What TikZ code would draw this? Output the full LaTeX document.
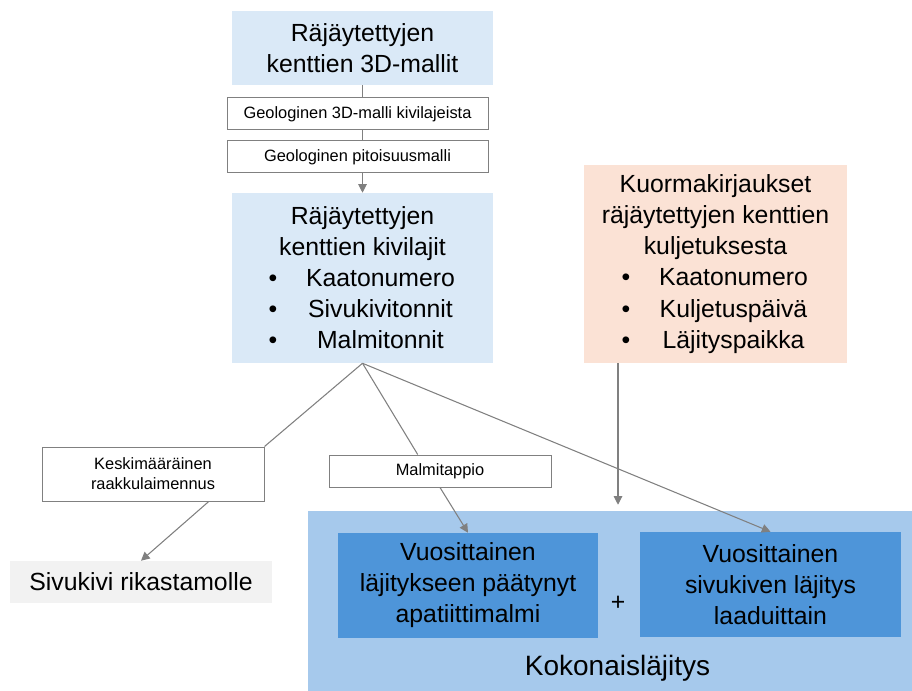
\documentclass[tikz,border=0pt]{standalone}
\usepackage{fontspec}
\setmainfont{Liberation Sans}
\usetikzlibrary{arrows.meta,calc}
\definecolor{lightblue}{HTML}{DAE9F7}
\definecolor{peach}{HTML}{FBE2D5}
\definecolor{lightgray}{HTML}{F2F2F2}
\definecolor{midblue}{HTML}{A6C9EC}
\definecolor{darkblue}{HTML}{4E95D9}
\definecolor{linegray}{HTML}{808080}
\newcommand{\bigtext}{\fontsize{18.6}{23.3}\selectfont}
\newcommand{\hugetext}{\fontsize{21}{25}\selectfont}
\newcommand{\smalltext}{\fontsize{12.3}{15}\selectfont}
\newcommand{\bulletline}[1]{\makebox[141pt]{\makebox[27pt][l]{\textbullet}\makebox[114pt]{#1}}}
\tikzset{
  box/.style 2 args={rectangle, inner sep=0pt, align=center, minimum width=#1*0.75pt, minimum height=#2*0.75pt},
  bigbox/.style={font=\bigtext},
  labelbox/.style={draw=linegray, line width=0.75pt, fill=white, font=\smalltext},
  link/.style={draw=linegray, line width=0.8pt},
  arrow/.style={link, -{Triangle[length=6.5pt,width=6.5pt]}}
}
\begin{document}
\begin{tikzpicture}[x=0.75pt,y=-0.75pt]
\useasboundingbox (0,0) rectangle (912,691);
\node[box={604}{180}, fill=midblue] (koko) at (610,601) {};
\node[font=\hugetext] (kokoteksti) at (617.5,668) {Kokonaisläjitys};
\node[box={261}{74}, bigbox, fill=lightblue] (mallit) at (362.5,48) {Räjäytettyjen\\kenttien 3D-mallit};
\node[box={261}{32}, labelbox] (geo1) at (357.5,114) {Geologinen 3D-malli kivilajeista};
\node[box={261}{32}, labelbox] (geo2) at (357.5,157) {Geologinen pitoisuusmalli};
\node[box={261}{170}, bigbox, fill=lightblue] (kivilajit) at (362.5,278) {Räjäytettyjen\\kenttien kivilajit\\\bulletline{Kaatonumero}\\\bulletline{Sivukivitonnit}\\\bulletline{Malmitonnit}};
\node[box={263}{198}, bigbox, fill=peach] (kuorma) at (715.5,264) {Kuormakirjaukset\\räjäytettyjen kenttien\\kuljetuksesta\\\bulletline{Kaatonumero}\\\bulletline{Kuljetuspäivä}\\\bulletline{Läjityspaikka}};
\node[box={222}{54}, labelbox] (laimennus) at (153,474) {Keskimääräinen\\raakkulaimennus};
\node[box={222}{32}, labelbox] (tappio) at (440,471) {Malmitappio};
\node[box={262}{42}, bigbox, fill=lightgray] (rikastamo) at (141,582) {Sivukivi rikastamolle};
\node[box={260}{105}, bigbox, fill=darkblue] (malmi) at (468,585.5) {Vuosittainen\\läjitykseen päätynyt\\apatiittimalmi};
\node[box={261}{105}, bigbox, fill=darkblue] (sivukivi) at (770.5,584.5) {Vuosittainen\\sivukiven läjitys\\laaduittain};
\node[font=\bigtext] (plus) at (618,603) {+};
\draw[link] (mallit.south) -- (mallit.south |- geo1.north);
\draw[link] (mallit.south |- geo1.south) -- (mallit.south |- geo2.north);
\draw[arrow] (mallit.south |- geo2.south) -- (kivilajit.north);
\draw[link] (kivilajit.south) -- (laimennus.north east);
\draw[link] (kivilajit.south) -- ($(tappio.north west)!0.4!(tappio.north east)$);
\draw[arrow] (kivilajit.south) -- (sivukivi.north);
\draw[arrow] ($(laimennus.south west)!0.75!(laimennus.south east)$) -- (rikastamo.north);
\draw[arrow] (tappio.south) -- (malmi.north);
\draw[arrow] (kuorma.south -| plus) -- ([yshift=4.5pt]plus |- koko.north);
\end{tikzpicture}
\end{document}
